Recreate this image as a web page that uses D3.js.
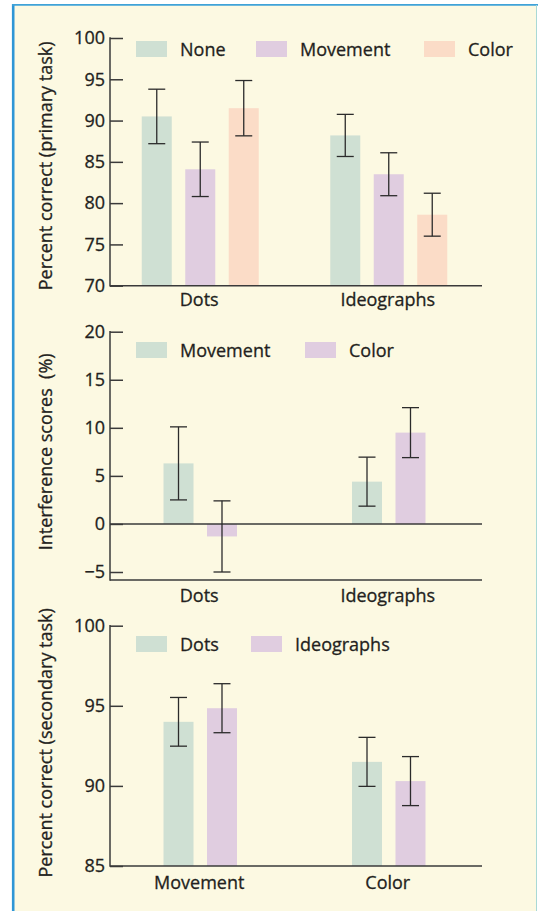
<!DOCTYPE html>
<html>
<head>
<meta charset="utf-8">
<script src="https://cdn.jsdelivr.net/npm/d3@7"></script>
<style>
  html, body { margin: 0; padding: 0; background: #ffffff; }
  svg { display: block; }
  text { font-family: "Open Sans", "Noto Sans", sans-serif; fill: #231f20; stroke: #231f20; stroke-width: 0.3px; }
</style>
</head>
<body>
<svg id="chart" width="538" height="911"></svg>
<script>
// ---- Panel 1: primary task accuracy ----
const primaryCategories = ["Dots", "Ideographs"];
const primarySeries = ["None", "Movement", "Color"];
const primaryValues = [[90.5, 84.1, 91.5], [88.2, 83.5, 78.6]];
const primaryErrors = [[3.3, 3.3, 3.35], [2.55, 2.6, 2.6]];
const primaryTicks = [70, 75, 80, 85, 90, 95, 100];

// ---- Panel 2: interference scores ----
const interferenceCategories = ["Dots", "Ideographs"];
const interferenceSeries = ["Movement", "Color"];
const interferenceValues = [[6.3, -1.3], [4.4, 9.5]];
const interferenceErrors = [[3.8, 3.7], [2.55, 2.6]];
const interferenceTicks = [-5, 0, 5, 10, 15, 20];

// ---- Panel 3: secondary task accuracy ----
const secondaryCategories = ["Movement", "Color"];
const secondarySeries = ["Dots", "Ideographs"];
const secondaryValues = [[94.0, 94.85], [91.5, 90.3]];
const secondaryErrors = [[1.52, 1.53], [1.53, 1.53]];
const secondaryTicks = [85, 90, 95, 100];

const seriesColors = {
  "None": "#cfe0d3",
  "Movement": "#e0cde0",
  "Color": "#fbdcc7",
  "Dots": "#cfe0d3",
  "Ideographs": "#e0cde0"
};
const interferenceColors = { "Movement": "#cfe0d3", "Color": "#e0cde0" };

const FS = 18;
const svg = d3.select("#chart");
const ink = "#3a3a3a";

// frame
svg.append("rect").attr("x", 13).attr("y", 5).attr("width", 523).attr("height", 906).attr("fill", "#fcf9e2");
svg.append("line").attr("x1", 13.2).attr("x2", 13.2).attr("y1", 4).attr("y2", 911)
  .attr("stroke", "#2e96d6").attr("stroke-width", 2.6);
svg.append("line").attr("x1", 12).attr("x2", 538).attr("y1", 4.8).attr("y2", 4.8)
  .attr("stroke", "#3fa2d8").attr("stroke-width", 1.8);
svg.append("line").attr("x1", 536.5).attr("x2", 536.5).attr("y1", 5).attr("y2", 911)
  .attr("stroke", "#a9d9d6").attr("stroke-width", 1);

const axisX = 110, axisRight = 482;

function panel(opts) {
  const g = svg.append("g");
  const y = d3.scaleLinear().domain(opts.domain).range(opts.range);
  const x0 = d3.scalePoint().domain(opts.categories).range([106, 483]).padding(0.5);
  const groupW = opts.series.length === 3 ? 117 : 73.5;
  const x1 = d3.scaleBand().domain(opts.series).range([-groupW / 2, groupW / 2]).paddingInner(0.31);
  const base = opts.base !== undefined ? opts.base : opts.domain[0];

  // bars
  opts.categories.forEach((cat, ci) => {
    opts.series.forEach((s, si) => {
      const v = opts.values[ci][si];
      const xl = x0(cat) + x1(s);
      g.append("rect")
        .attr("x", xl).attr("width", x1.bandwidth())
        .attr("y", Math.min(y(v), y(base)))
        .attr("height", Math.abs(y(v) - y(base)))
        .attr("fill", opts.colors[s]);
    });
  });

  // y axis
  const axis = d3.axisLeft(y).tickValues(opts.ticks).tickSizeInner(-13).tickSizeOuter(0).tickPadding(5)
    .tickFormat(d => d < 0 ? "\u2212" + Math.abs(d) : String(d));
  const ag = g.append("g").attr("transform", `translate(${axisX},0)`).call(axis);
  ag.select(".domain").remove();
  ag.selectAll(".tick line").attr("stroke", ink).attr("stroke-width", 1.5);
  ag.selectAll(".tick text").attr("font-size", FS).attr("fill", "#231f20")
    .attr("font-family", "\"Open Sans\", \"Noto Sans\", sans-serif");

  const bottom = opts.bottom !== undefined ? opts.bottom : y(opts.domain[0]);
  g.append("line").attr("x1", axisX).attr("x2", axisX).attr("y1", y(opts.domain[1]) - 0.75).attr("y2", bottom + 0.75)
    .attr("stroke", ink).attr("stroke-width", 1.5);
  g.append("line").attr("x1", axisX).attr("x2", axisRight).attr("y1", bottom).attr("y2", bottom)
    .attr("stroke", ink).attr("stroke-width", 1.5);
  if (opts.base !== undefined) {
    g.append("line").attr("x1", axisX).attr("x2", axisRight).attr("y1", y(0)).attr("y2", y(0))
      .attr("stroke", ink).attr("stroke-width", 1.5);
  }

  // error bars
  opts.categories.forEach((cat, ci) => {
    opts.series.forEach((s, si) => {
      const v = opts.values[ci][si], e = opts.errors[ci][si];
      const cx = x0(cat) + x1(s) + x1.bandwidth() / 2;
      const eg = g.append("g").attr("stroke", "#2b2b2b").attr("stroke-width", 1.3);
      eg.append("line").attr("x1", cx).attr("x2", cx).attr("y1", y(v + e)).attr("y2", y(v - e));
      eg.append("line").attr("x1", cx - 8.5).attr("x2", cx + 8.5).attr("y1", y(v + e)).attr("y2", y(v + e));
      eg.append("line").attr("x1", cx - 8.5).attr("x2", cx + 8.5).attr("y1", y(v - e)).attr("y2", y(v - e));
    });
  });

  // category labels
  opts.categories.forEach(cat => {
    g.append("text").attr("x", x0(cat) - 1).attr("y", bottom + opts.labelDy)
      .attr("text-anchor", "middle").attr("font-size", FS).text(cat);
  });

  // y title
  const mid = (y(opts.domain[1]) + bottom) / 2;
  g.append("text").attr("transform", `translate(52,${mid + opts.titleShift}) rotate(-90)`)
    .attr("text-anchor", "middle").attr("font-size", FS).text(opts.title);

  // legend
  opts.series.forEach((s, si) => {
    const lx = opts.legendX[si];
    g.append("rect").attr("x", lx).attr("y", opts.legendY).attr("width", 31).attr("height", 16)
      .attr("fill", opts.colors[s]);
    g.append("text").attr("x", lx + 44).attr("y", opts.legendY + 14.5).attr("font-size", FS).text(s);
  });
}

panel({
  categories: primaryCategories, series: primarySeries, values: primaryValues, errors: primaryErrors,
  ticks: primaryTicks, domain: [70, 100], range: [285.7, 38], colors: seriesColors,
  title: "Percent correct (primary task)", titleShift: 4, labelDy: 20.5,
  legendX: [136, 256, 424], legendY: 41
});

panel({
  categories: interferenceCategories, series: interferenceSeries, values: interferenceValues, errors: interferenceErrors,
  ticks: interferenceTicks, domain: [-5, 20], range: [572, 331.7], base: 0, bottom: 580, colors: interferenceColors,
  title: "Interference scores\u00a0 (%)", titleShift: -4, labelDy: 21.5,
  legendX: [136, 305], legendY: 342
});

panel({
  categories: secondaryCategories, series: secondarySeries, values: secondaryValues, errors: secondaryErrors,
  ticks: secondaryTicks, domain: [85, 100], range: [866, 625.7], colors: seriesColors,
  title: "Percent correct (secondary task)", titleShift: -3, labelDy: 23,
  legendX: [136, 251], legendY: 636
});
</script>
</body>
</html>
